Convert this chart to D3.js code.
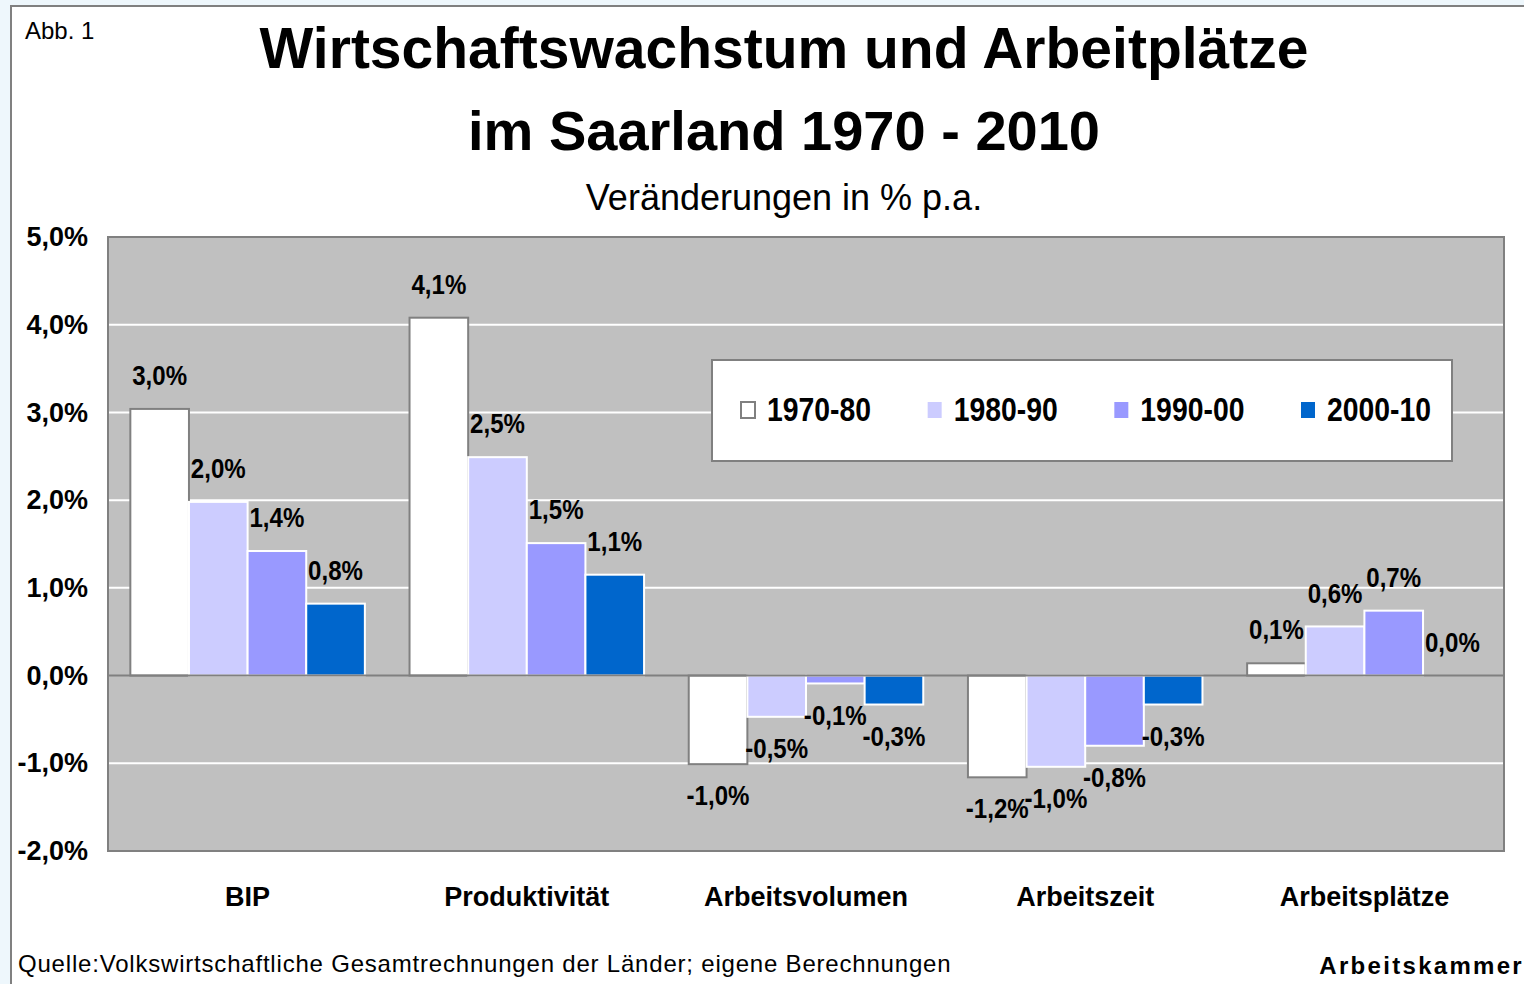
<!DOCTYPE html>
<html>
<head>
<meta charset="utf-8">
<script src="https://cdn.jsdelivr.net/npm/d3@7"></script>
<style>
  body { margin: 0; background: #eef7fc; }
  svg { display: block; }
</style>
</head>
<body>
<svg id="chart" width="1524" height="984"></svg>
<script>
var categories = ["BIP", "Produktivität", "Arbeitsvolumen", "Arbeitszeit", "Arbeitsplätze"];
var series = ["1970-80", "1980-90", "1990-00", "2000-10"];
var values1970 = [3.04, 4.08, -1.01, -1.16, 0.14];
var values1980 = [1.98, 2.49, -0.47, -1.04, 0.56];
var values1990 = [1.42, 1.51, -0.09, -0.80, 0.74];
var values2000 = [0.82, 1.15, -0.33, -0.33, 0.0];
var yTicks = [-2, -1, 0, 1, 2, 3, 4, 5];

var colors = ["#ffffff", "#ccccff", "#9999ff", "#0066cc"];
var allValues = [values1970, values1980, values1990, values2000];

var data = [];
for (var i = 0; i < categories.length; i++) {
  for (var j = 0; j < series.length; j++) {
    data.push({ cat: categories[i], ser: series[j], idx: j, value: allValues[j][i] });
  }
}

var fmt = function (v) { return v.toFixed(1).replace(".", ",") + "%"; };

var svg = d3.select("#chart");
var sans = "'Liberation Sans', Arial, sans-serif";
var squeeze = 0.86; // narrow look, no Arial Narrow installed

// frame
svg.append("rect")
  .attr("x", 11).attr("y", 6)
  .attr("width", 1530).attr("height", 1000)
  .attr("fill", "white")
  .attr("stroke", "#808080")
  .attr("stroke-width", 2);

svg.append("text")
  .attr("x", 25).attr("y", 39)
  .style("font-family", sans).style("font-size", "24px")
  .text("Abb. 1");

svg.append("text")
  .attr("x", 784).attr("y", 68)
  .attr("text-anchor", "middle")
  .style("font-family", sans).style("font-size", "57px").style("font-weight", "bold")
  .text("Wirtschaftswachstum und Arbeitplätze");

svg.append("text")
  .attr("x", 784).attr("y", 150)
  .attr("text-anchor", "middle")
  .style("font-family", sans).style("font-size", "56px").style("font-weight", "bold")
  .text("im Saarland 1970 - 2010");

svg.append("text")
  .attr("x", 784).attr("y", 210)
  .attr("text-anchor", "middle")
  .style("font-family", sans).style("font-size", "36px")
  .text("Veränderungen in % p.a.");

// scales
var y = d3.scaleLinear().domain([-2, 5]).range([851, 237]);
var x0 = d3.scaleBand().domain(categories).range([108, 1504]).paddingInner(0.16).paddingOuter(0.08);
var x1 = d3.scaleBand().domain(series).range([0, x0.bandwidth()]);

// plot area
svg.append("rect")
  .attr("x", 108).attr("y", 237)
  .attr("width", 1396).attr("height", 614)
  .attr("fill", "#c0c0c0");

svg.selectAll(".grid")
  .data(yTicks.filter(function (d) { return d !== 0 && d !== 5 && d !== -2; }))
  .enter()
  .append("line")
  .attr("x1", 108).attr("x2", 1504)
  .attr("y1", function (d) { return y(d); })
  .attr("y2", function (d) { return y(d); })
  .attr("stroke", "white")
  .attr("stroke-width", 2);

var y_axis = d3.axisLeft(y).tickValues(yTicks).tickSize(0).tickPadding(20).tickFormat(fmt);
var gY = svg.append("g")
  .attr("transform", "translate(108,0)")
  .call(y_axis);
gY.select(".domain").remove();
gY.selectAll("text")
  .style("font-family", sans).style("font-size", "27px").style("font-weight", "bold")
  .attr("fill", "black");

// bars
svg.selectAll(".bar")
  .data(data)
  .enter()
  .append("rect")
  .attr("x", function (d) { return x0(d.cat) + x1(d.ser); })
  .attr("width", x1.bandwidth())
  .attr("y", function (d) { return y(Math.max(0, d.value)); })
  .attr("height", function (d) { return Math.abs(y(d.value) - y(0)); })
  .attr("fill", function (d) { return colors[d.idx]; })
  .attr("stroke", function (d) { return d.idx === 0 ? "#808080" : "white"; })
  .attr("stroke-width", 2);

// zero line
svg.append("line")
  .attr("x1", 108).attr("x2", 1504)
  .attr("y1", y(0)).attr("y2", y(0))
  .attr("stroke", "#808080")
  .attr("stroke-width", 2);

// plot border
svg.append("rect")
  .attr("x", 108).attr("y", 237)
  .attr("width", 1396).attr("height", 614)
  .attr("fill", "none")
  .attr("stroke", "#808080")
  .attr("stroke-width", 2);

// data labels
svg.selectAll(".lbl")
  .data(data)
  .enter()
  .append("text")
  .attr("transform", function (d) {
    var lx = x0(d.cat) + x1(d.ser) + x1.bandwidth() / 2;
    var ly = d.value >= 0 ? y(d.value) - 34 : y(d.value) + 31;
    return "translate(" + lx + "," + ly + ") scale(" + squeeze + ",1)";
  })
  .attr("dy", "0.36em")
  .attr("text-anchor", "middle")
  .style("font-family", sans).style("font-size", "28px").style("font-weight", "bold")
  .text(function (d) { return fmt(d.value); });

// category labels
var x_axis = d3.axisBottom(x0).tickSize(0).tickPadding(0);
var gX = svg.append("g")
  .attr("transform", "translate(0,906)")
  .call(x_axis);
gX.select(".domain").remove();
gX.selectAll("text")
  .attr("dy", 0)
  .style("font-family", sans).style("font-size", "27px").style("font-weight", "bold")
  .attr("fill", "black");

// legend
var legend = svg.append("g");
legend.append("rect")
  .attr("x", 712).attr("y", 360)
  .attr("width", 740).attr("height", 101)
  .attr("fill", "white")
  .attr("stroke", "#808080")
  .attr("stroke-width", 2);

var legendX = d3.scalePoint().domain(series).range([741, 1301]);
var items = legend.selectAll(".item")
  .data(series)
  .enter()
  .append("g")
  .attr("transform", function (d) { return "translate(" + legendX(d) + ",402)"; });
items.append("rect")
  .attr("width", 14).attr("height", 16)
  .attr("fill", function (d, i) { return colors[i]; })
  .attr("stroke", function (d, i) { return i === 0 ? "#808080" : "none"; })
  .attr("stroke-width", 2);
items.append("text")
  .attr("transform", "translate(26,19) scale(" + squeeze + ",1)")
  .style("font-family", sans).style("font-size", "33px").style("font-weight", "bold")
  .text(function (d) { return d; });

// footer
svg.append("text")
  .attr("x", 18).attr("y", 972)
  .style("font-family", sans).style("font-size", "24px")
  .style("letter-spacing", "0.8px")
  .text("Quelle:Volkswirtschaftliche Gesamtrechnungen der Länder; eigene Berechnungen");

svg.append("text")
  .attr("x", 1524).attr("y", 974)
  .attr("text-anchor", "end")
  .style("font-family", sans).style("font-size", "24px").style("font-weight", "bold")
  .style("letter-spacing", "2.3px")
  .text("Arbeitskammer");
</script>
</body>
</html>
